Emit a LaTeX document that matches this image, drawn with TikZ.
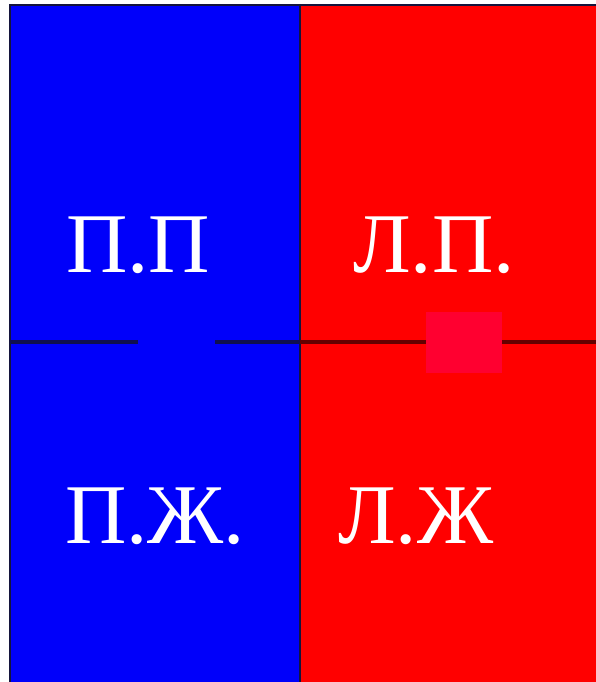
\documentclass[tikz,border=0pt]{standalone}
\usepackage{fontspec}
\setmainfont{Liberation Serif}
\definecolor{pblue}{RGB}{0,0,250}
\definecolor{pred}{RGB}{255,0,0}
\definecolor{psq}{RGB}{255,0,48}
\definecolor{bordr}{RGB}{20,20,60}
\definecolor{lineblue}{RGB}{15,15,80}
\definecolor{linered}{RGB}{100,0,0}
\begin{document}
\begin{tikzpicture}[x=1pt,y=-1pt,
  lbl/.style={anchor=base west,inner sep=0pt,text=white,font=\fontsize{85}{85}\selectfont},
  panel/.style={draw=bordr,line width=2.5pt}]
\useasboundingbox (0,0) rectangle (596,682);
\fill[white] (0,0) rectangle (596,682);
% panels
\path[panel,fill=pblue] (10,5) rectangle (300,684);
\path[panel,fill=pred] (300,5) rectangle (598,684);
\coordinate (a1) at (10,342);
\coordinate (a2) at (138,342);
\coordinate (b1) at (215,342);
\coordinate (b2) at (300,342);
\coordinate (c2) at (596,342);
\draw[lineblue,line width=3.5pt] (a1) -- (a2);
\draw[lineblue,line width=3.5pt] (b1) -- (b2);
\draw[linered,line width=3.5pt] (b2) -- (c2);
\node[fill=psq,inner sep=0pt,minimum width=76pt,minimum height=61pt] (sq) at (464,342.5) {};
% labels
\node[lbl] (pp) at (66,272) {П.П};
\node[lbl] (lp) at (353,272) {Л.П.};
\node[lbl] (pz) at (65,543) {П.Ж.};
\node[lbl] (lz) at (338,543) {Л.Ж};
\end{tikzpicture}
\end{document}
